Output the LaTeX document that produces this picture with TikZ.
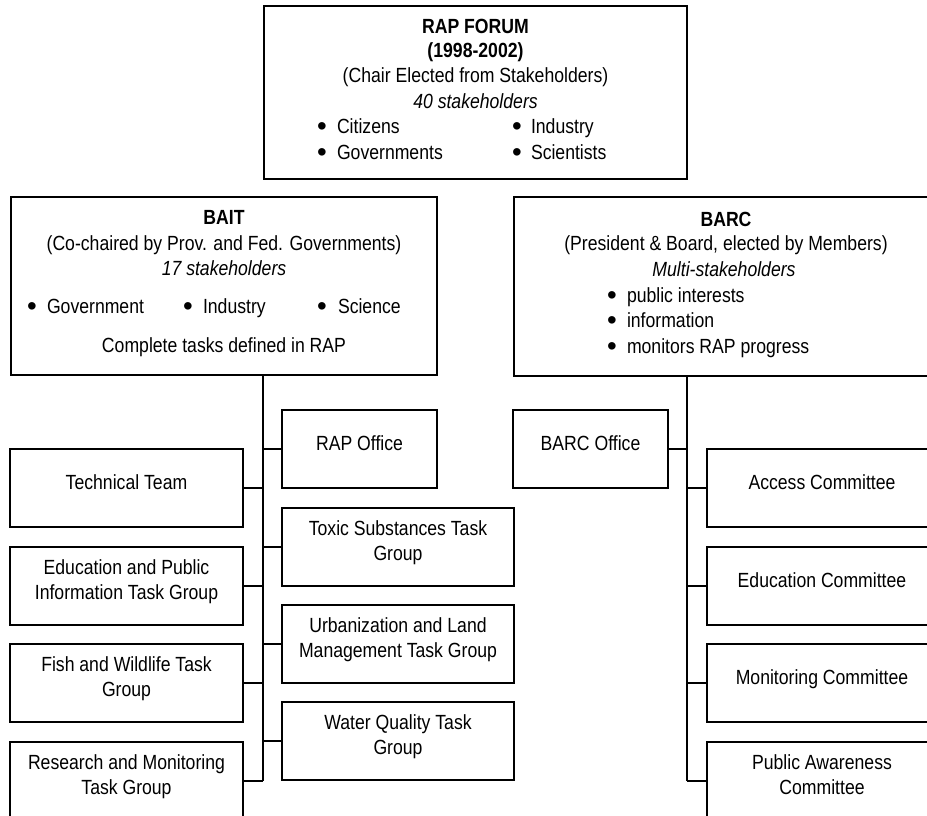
\documentclass[tikz,border=0pt]{standalone}
\usepackage{fontspec}
\usepackage{graphicx}
\setmainfont{Liberation Sans}[FakeStretch=0.86]
\newfontfamily\bulfont{Liberation Sans}
\newcommand{\mybul}{\raisebox{-2.6pt}{\scalebox{1.35}{\bulfont •}}}
\begin{document}
\begin{tikzpicture}[x=1pt,y=-1pt,
  every node/.style={font=\fontsize{20.5}{25.3}\selectfont, inner sep=0pt, outer sep=0pt},
  bul/.style={anchor=base},
  box/.style={draw, line width=1.5pt, anchor=north west, inner sep=0pt, outer sep=0pt},
  sbox/.style={box, minimum width=233pt, minimum height=78pt},
  obox/.style={box, minimum width=155pt, minimum height=78pt},
  txt/.style={align=center},
  conn/.style={line width=1.5pt}]
\useasboundingbox (0,0) rectangle (927,816);
\clip (0,0) rectangle (927,816);

% ---------- RAP FORUM ----------
\node[box, minimum width=423pt, minimum height=173pt] (forum) at (264,6) {};
\node[anchor=base] (f1) at (475.5,34) {\textbf{RAP FORUM}};
\node[anchor=base] (f2) at (475.5,58) {\textbf{(1998-2002)}};
\node[anchor=base] (f3) at (475.5,83) {(Chair Elected from Stakeholders)};
\node[anchor=base] (f4) at (475.5,108) {\textit{40 stakeholders}};
\node[bul] (fb1) at (322,133) {\mybul};
\node[anchor=base west] (f5) at (337,133) {Citizens};
\node[bul] (fb2) at (517,133) {\mybul};
\node[anchor=base west] (f6) at (531,133) {Industry};
\node[bul] (fb3) at (322,159) {\mybul};
\node[anchor=base west] (f7) at (337,159) {Governments};
\node[bul] (fb4) at (517,159) {\mybul};
\node[anchor=base west] (f8) at (531,159) {Scientists};

% ---------- BAIT ----------
\node[box, minimum width=426pt, minimum height=178pt] (bait) at (11,197) {};
\node[anchor=base] (b1) at (224,224) {\textbf{BAIT}};
\node[anchor=base] (b2) at (224,250) {(Co-chaired by Prov. and Fed. Governments)};
\node[anchor=base] (b3) at (224,275) {\textit{17 stakeholders}};
\node[bul] (bb1) at (32,313) {\mybul};
\node[anchor=base west] (b4) at (47,313) {Government};
\node[bul] (bb2) at (188,313) {\mybul};
\node[anchor=base west] (b5) at (203,313) {Industry};
\node[bul] (bb3) at (322,313) {\mybul};
\node[anchor=base west] (b6) at (338,313) {Science};
\node[anchor=base] (b7) at (224,352) {Complete tasks defined in RAP};

% ---------- BARC ----------
\node[box, minimum width=426pt, minimum height=179pt] (barc) at (514,197) {};
\node[anchor=base] (r1) at (726,226) {\textbf{BARC}};
\node[anchor=base] (r2) at (726,250) {(President \& Board, elected by Members)};
\node[anchor=base] (r3) at (724,276) {\textit{Multi-stakeholders}};
\node[bul] (rb1) at (612,302) {\mybul};
\node[anchor=base west] (r4) at (627,302) {public interests};
\node[bul] (rb2) at (612,327) {\mybul};
\node[anchor=base west] (r5) at (627,327) {information};
\node[bul] (rb3) at (612,353) {\mybul};
\node[anchor=base west] (r6) at (627,353) {monitors RAP progress};

% ---------- spines ----------
\coordinate (lsp) at (263,0);
\coordinate (rsp) at (687,0);

% ---------- BAIT left column ----------
\node[sbox] (tech) at (10,449) {};
\node[txt] (techT) at ([yshift=4pt]tech.center) {\strut Technical Team};
\node[sbox] (edu) at (10,547) {};
\node[txt] (eduT) at ([yshift=4pt]edu.center) {\strut Education and Public\\\strut Information Task Group};
\node[sbox] (fish) at (10,644) {};
\node[txt] (fishT) at ([yshift=4pt]fish.center) {\strut Fish and Wildlife Task\\\strut Group};
\node[sbox] (res) at (10,742) {};
\node[txt] (resT) at ([yshift=4pt]res.center) {\strut Research and Monitoring\\\strut Task Group};

% ---------- BAIT middle column ----------
\node[obox] (rapoff) at (282,410) {};
\node[txt] (rapoffT) at ([yshift=4pt]rapoff.center) {\strut RAP Office};
\node[sbox, minimum width=232pt] (toxic) at (282,508) {};
\node[txt] (toxicT) at ([yshift=4pt]toxic.center) {\strut Toxic Substances Task\\\strut Group};
\node[sbox, minimum width=232pt] (urban) at (282,605) {};
\node[txt] (urbanT) at ([yshift=4pt]urban.center) {\strut Urbanization and Land\\\strut Management Task Group};
\node[sbox, minimum width=232pt] (water) at (282,702) {};
\node[txt] (waterT) at ([yshift=4pt]water.center) {\strut Water Quality Task\\\strut Group};

% ---------- BARC column ----------
\node[obox] (barcoff) at (513,410) {};
\node[txt] (barcoffT) at ([yshift=4pt]barcoff.center) {\strut BARC Office};
\node[sbox, minimum width=230pt] (access) at (707,449) {};
\node[txt] (accessT) at ([yshift=4pt]access.center) {\strut Access Committee};
\node[sbox, minimum width=230pt] (educ) at (707,547) {};
\node[txt] (educT) at ([yshift=4pt]educ.center) {\strut Education Committee};
\node[sbox, minimum width=230pt] (monit) at (707,644) {};
\node[txt] (monitT) at ([yshift=4pt]monit.center) {\strut Monitoring Committee};
\node[sbox, minimum width=230pt] (pubaw) at (707,742) {};
\node[txt] (pubawT) at ([yshift=4pt]pubaw.center) {\strut Public Awareness\\\strut Committee};

% ---------- connectors ----------
\draw[conn] (bait.south -| lsp) -- (res.east -| lsp);
\foreach \n in {tech,edu,fish,res} \draw[conn] (\n.east) -- (\n.east -| lsp);
\foreach \n in {rapoff,toxic,urban,water} \draw[conn] (\n.west) -- (\n.west -| lsp);

\draw[conn] (barc.south -| rsp) -- (pubaw.west -| rsp);
\draw[conn] (barcoff.east) -- (barcoff.east -| rsp);
\foreach \n in {access,educ,monit,pubaw} \draw[conn] (\n.west) -- (\n.west -| rsp);
\end{tikzpicture}
\end{document}
